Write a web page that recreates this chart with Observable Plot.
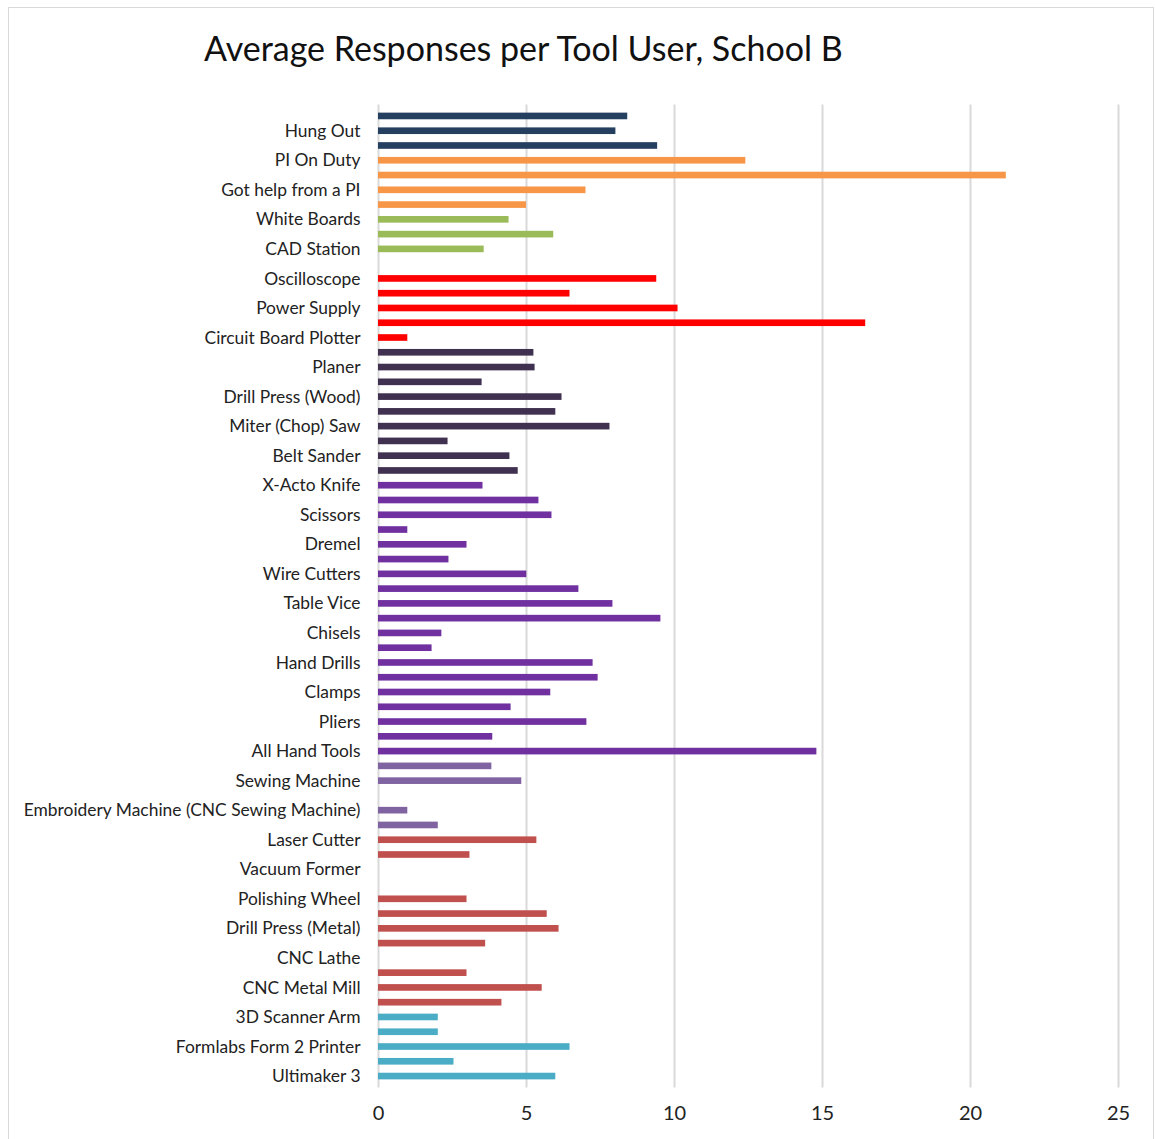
<!DOCTYPE html>
<html>
<head>
<meta charset="utf-8">
<script src="https://cdn.jsdelivr.net/npm/d3@7"></script>
<script src="https://cdn.jsdelivr.net/npm/@observablehq/plot@0.6"></script>
<style>
  body { margin: 0; background: #fff; font-family: Lato, "Open Sans", sans-serif; }
  #frame { position: absolute; left: 8px; top: 7px; width: 1146px; height: 1150px; border: 1px solid #d9d9d9; box-sizing: border-box; }
  #title { position: absolute; left: 204px; top: 27px; font-size: 34px; color: #111; white-space: nowrap; font-family: Lato, sans-serif; }
  #chart { position: absolute; left: 0; top: 0; }
</style>
</head>
<body>
<div id="frame"></div>
<div id="title">Average Responses per Tool User, School B</div>
<div id="chart"></div>
<script>
// Categories from top to bottom; only every other one carries a visible label.
const toolLabels = [
  "", "Hung Out", "", "PI On Duty", "", "Got help from a PI", "", "White Boards", "", "CAD Station",
  "", "Oscilloscope", "", "Power Supply", "", "Circuit Board Plotter", "", "Planer", "", "Drill Press (Wood)",
  "", "Miter (Chop) Saw", "", "Belt Sander", "", "X-Acto Knife", "", "Scissors", "", "Dremel",
  "", "Wire Cutters", "", "Table Vice", "", "Chisels", "", "Hand Drills", "", "Clamps",
  "", "Pliers", "", "All Hand Tools", "", "Sewing Machine", "", "Embroidery Machine (CNC Sewing Machine)", "", "Laser Cutter",
  "", "Vacuum Former", "", "Polishing Wheel", "", "Drill Press (Metal)", "", "CNC Lathe", "", "CNC Metal Mill",
  "", "3D Scanner Arm", "", "Formlabs Form 2 Printer", "", "Ultimaker 3"
];

// Average responses per tool user, same order as toolLabels.
const responses = [
  8.42, 8.02, 9.43, 12.41, 21.21, 7.01, 5.0, 4.41, 5.92, 3.57,
  0, 9.40, 6.47, 10.12, 16.46, 0.99, 5.25, 5.29, 3.50, 6.20,
  5.99, 7.82, 2.35, 4.44, 4.72, 3.53, 5.42, 5.86, 0.99, 2.99,
  2.38, 5.01, 6.77, 7.92, 9.54, 2.14, 1.81, 7.25, 7.42, 5.82,
  4.48, 7.04, 3.86, 14.81, 3.83, 4.84, 0, 0.99, 2.02, 5.35,
  3.09, 0, 0, 2.99, 5.70, 6.10, 3.62, 0, 2.99, 5.53,
  4.17, 2.02, 2.02, 6.47, 2.55, 5.99
];

// Shop area of each category.
const areas = [
  "lounge", "lounge", "lounge", "help", "help", "help", "help", "design", "design", "design",
  "design", "electronics", "electronics", "electronics", "electronics", "electronics", "wood", "wood", "wood", "wood",
  "wood", "wood", "wood", "wood", "wood", "hand", "hand", "hand", "hand", "hand",
  "hand", "hand", "hand", "hand", "hand", "hand", "hand", "hand", "hand", "hand",
  "hand", "hand", "hand", "hand", "textile", "textile", "textile", "textile", "textile", "metal",
  "metal", "metal", "metal", "metal", "metal", "metal", "metal", "metal", "metal", "metal",
  "metal", "digital", "digital", "digital", "digital", "digital"
];

const areaNames = ["lounge", "help", "design", "electronics", "wood", "hand", "textile", "metal", "digital"];
const areaColors = ["#243f60", "#f79646", "#9bbb59", "#ff0000", "#403151", "#7030a0", "#8064a2", "#c0504d", "#4bacc6"];

const xTicks = [0, 5, 10, 15, 20, 25];

const rows = responses.map((value, i) => ({i, value, area: areas[i]}));

const chart = Plot.plot({
  width: 1155,
  height: 1139,
  marginLeft: 378,
  marginRight: 37,
  marginTop: 104.5,
  marginBottom: 51.5,
  style: {fontFamily: "Lato, sans-serif", background: "transparent", color: "#222"},
  x: {domain: [0, 25]},
  y: {domain: d3.range(toolLabels.length), padding: 0.55},
  color: {domain: areaNames, range: areaColors},
  marks: [
    Plot.ruleX(xTicks, {stroke: "#d9d9d9", strokeWidth: 2}),
    Plot.barX(rows, {x: "value", y: "i", fill: "area"}),
    Plot.axisY({tickSize: 0, tickPadding: 18, tickFormat: i => toolLabels[i], fontSize: 17.4, label: null}),
    Plot.axisX(xTicks, {tickSize: 0, tickPadding: 18, fontSize: 20, label: null})
  ]
});
document.getElementById("chart").appendChild(chart);
</script>
</body>
</html>
